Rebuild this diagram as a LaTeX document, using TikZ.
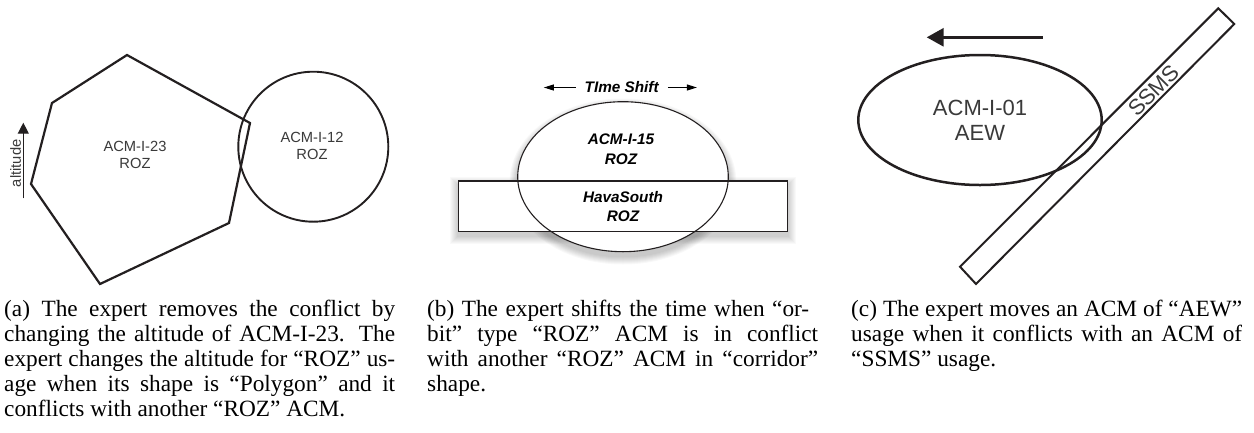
\documentclass[tikz,border=0pt]{standalone}
\usepackage{fontspec}
\setmainfont{Liberation Serif}
\setsansfont{Liberation Sans}
\usetikzlibrary{arrows.meta,shapes.geometric}
\definecolor{ink}{HTML}{231F20}
\definecolor{labelgray}{HTML}{3A3A3A}
% one justified caption line of fixed width
\newcommand\justline[2][391pt]{\makebox[#1][s]{#2}\\}

\begin{document}
\begin{tikzpicture}[x=1pt,y=-1pt,
  outline/.style={draw=ink, line join=miter},
  lbl/.style={font=\sffamily\fontsize{14.7}{16.5}\selectfont, text=labelgray, align=center, inner sep=0pt},
  lblb/.style={font=\sffamily\bfseries\itshape\fontsize{15.3}{19.5}\selectfont, text=black, align=center, inner sep=0pt},
  lblc/.style={font=\sffamily\fontsize{22}{25}\selectfont, text=labelgray, align=center},
  capbox/.style={anchor=base west, inner sep=0pt, font=\rmfamily\fontsize{23.3}{25}\selectfont},
  smallhead/.style={-{Triangle[length=10pt,width=6pt]}, line width=1pt, draw=black},
]
\useasboundingbox[fill=white] (0,0) rectangle (1254,432);

% ---------- (a) polygon versus circle ----------
\draw[outline, line width=2.2pt] (127,55) -- (52,103) -- (31,184) -- (100,284)
  -- (229,223) -- (250,123) -- cycle;
\draw[outline, line width=1.9pt] (313.3,146.7) circle [radius=75];
\node[lbl] (acm23) at (135,155) {ACM-I-23\\ROZ};
\node[lbl] (acm12) at (312,145.7) {ACM-I-12\\ROZ};
\coordinate (altbase) at (23.3,198.3);
\coordinate (alttip) at (23.3,122.7);
\draw[ink, line width=1.3pt, -{Triangle[length=11pt,width=11pt]}] (altbase) -- (alttip);
\node[lbl, rotate=90] (alt) at (15.5,163.3) {altitude};

% ---------- (b) orbit over corridor ----------
\foreach \i in {1,...,8} {
  \fill[black, opacity=0.028] (623,181.5) ellipse [x radius={105.3+\i}, y radius={75+\i}];
  \fill[black, opacity=0.025] ({458.3-\i},{185-\i}) rectangle ({787.7+\i},{235.7+\i});
}
\fill[white] (458.3,181) rectangle (787.7,231.7);
\node[ellipse, draw=ink, fill=white, line width=1.1pt, minimum width=210.6pt,
  minimum height=150pt, inner sep=0pt] (orbit) at (623,176.7) {};
\draw[ink, line width=1.1pt] (458.3,181) rectangle (787.7,231.7);
\node[lblb] (acm15) at (621,149) {ACM-I-15\\ROZ};
\node[lblb] (hava) at (623,206.7) {HavaSouth\\ROZ};
\node[lblb] (shift) at (621.7,87.5) {TIme Shift};
\coordinate (shiftL) at ([xshift=-40.7pt]shift.west);
\coordinate (shiftR) at ([xshift=38pt]shift.east);
\draw[smallhead, shorten <=9pt] (shift.west) -- (shiftL);
\draw[smallhead, shorten <=9pt] (shift.east) -- (shiftR);

% ---------- (c) AEW orbit against SSMS corridor ----------
\coordinate (moveFrom) at (1042.7,37.3);
\coordinate (moveTo) at (926.7,37.3);
\draw[ink, line width=3pt, -{Triangle[length=17pt,width=18pt]}] (moveFrom) -- (moveTo);
\node[ellipse, draw=ink, line width=2.5pt, minimum width=243.4pt, minimum height=130pt,
  inner sep=0pt, lblc] (acm01) at (980,120) {ACM-I-01\\AEW};
\coordinate (cTopL) at (1218.3,8.3);
\coordinate (cTopR) at (1234.3,24);
\coordinate (cBotR) at (976,284);
\coordinate (cBotL) at (960,266.7);
\coordinate (cTopMid) at (1226.3,16.2);
\coordinate (cBotMid) at (968,275.3);
\draw[ink, line width=2pt] (cTopL) -- (cTopR) -- (cBotR) -- (cBotL) -- cycle;
\path (cBotMid) -- (cTopMid)
  node[pos=0.716, sloped, font=\sffamily\fontsize{22}{22}\selectfont, text=labelgray,
       inner sep=0pt, yshift=-1pt] (ssms) {SSMS};

% ---------- captions ----------
\node[capbox] (capA) at (4,316.7) {\parbox[t]{391pt}{\fontsize{23.3}{25}\selectfont
\justline{(a) The expert removes the conflict by}
\justline{changing the altitude of ACM-I-23. The}
\justline{expert changes the altitude for “ROZ” us-}
\justline{age when its shape is “Polygon” and it}
conflicts with another “ROZ” ACM.}};
\node[capbox] (capB) at (427,316.7) {\parbox[t]{391pt}{\fontsize{23.3}{25}\selectfont
\justline[382pt]{(b) The expert shifts the time when “or-}
\justline{bit” type “ROZ” ACM is in conflict}
\justline{with another “ROZ” ACM in “corridor”}
shape.}};
\node[capbox] (capC) at (851,316.7) {\parbox[t]{391pt}{\fontsize{23.3}{25}\selectfont
\justline{(c) The expert moves an ACM of “AEW”}
\justline{usage when it conflicts with an ACM of}
“SSMS” usage.}};
\end{tikzpicture}
\end{document}
